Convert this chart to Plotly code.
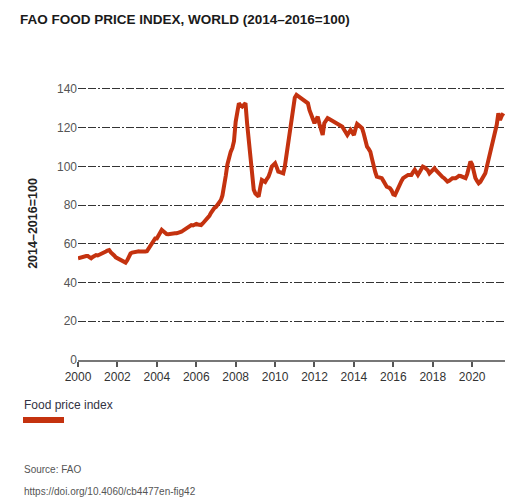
import pandas as pd
import plotly.graph_objects as go

# FAO Food Price Index, monthly (2014-2016=100)
start_month = "2000-01-01"
fpi_2000 = [52.5, 52.8, 53.2, 53.5, 53.6, 53.7, 53.7, 53.0, 52.5, 53.2, 53.8, 54.2]
fpi_2001 = [54.0, 54.3, 54.8, 55.0, 55.5, 56.0, 56.5, 56.8, 55.6, 55.1, 54.0, 53.0]
fpi_2002 = [52.5, 52.0, 51.5, 51.0, 50.5, 50.3, 51.5, 53.5, 55.0, 55.5, 55.8, 56.0]
fpi_2003 = [56.0, 56.2, 56.0, 55.8, 56.0, 56.0, 56.2, 57.5, 59.0, 60.5, 61.5, 62.8]
fpi_2004 = [62.8, 64.5, 66.0, 67.2, 66.5, 65.5, 65.1, 65.0, 65.2, 65.4, 65.3, 65.4]
fpi_2005 = [65.4, 65.6, 65.9, 66.3, 66.8, 67.3, 68.0, 68.5, 69.0, 69.7, 69.5, 70.0]
fpi_2006 = [70.3, 70.0, 69.8, 69.7, 70.5, 71.5, 72.5, 73.2, 74.5, 76.0, 77.5, 78.5]
fpi_2007 = [79.0, 80.0, 81.0, 82.5, 85.0, 89.0, 95.0, 101.0, 105.5, 107.5, 109.5, 113.0]
fpi_2008 = [123.0, 130.0, 132.6, 131.5, 130.9, 131.8, 132.6, 122.0, 113.7, 102.0, 93.0, 88.0]
fpi_2009 = [86.0, 84.8, 84.4, 89.0, 93.0, 92.5, 92.0, 93.5, 94.7, 97.0, 99.9, 100.8]
fpi_2010 = [101.6, 99.5, 97.3, 97.0, 96.6, 96.4, 100.0, 106.0, 113.0, 120.5, 126.0, 132.0]
fpi_2011 = [135.5, 136.9, 136.3, 135.8, 135.2, 134.5, 134.0, 133.2, 132.6, 129.0, 126.6, 124.0]
fpi_2012 = [122.3, 124.0, 125.7, 122.0, 118.0, 116.2, 122.3, 123.5, 124.9, 124.5, 124.0, 123.5]
fpi_2013 = [123.1, 123.0, 122.5, 121.8, 121.4, 120.5, 119.0, 117.5, 116.2, 117.5, 118.8, 117.5]
fpi_2014 = [116.2, 119.5, 121.9, 121.2, 120.5, 119.7, 117.0, 113.5, 110.2, 109.0, 107.6, 104.0]
fpi_2015 = [99.9, 97.0, 94.7, 94.3, 94.0, 93.9, 92.5, 90.5, 89.5, 89.2, 88.7, 87.5]
fpi_2016 = [85.5, 85.2, 87.0, 89.5, 91.0, 92.5, 93.9, 94.5, 95.0, 95.6, 95.6, 95.6]
fpi_2017 = [97.0, 98.2, 97.0, 95.6, 97.0, 98.5, 99.9, 99.5, 99.0, 98.0, 96.4, 97.5]
fpi_2018 = [98.5, 99.0, 98.0, 97.0, 96.4, 95.5, 94.5, 93.9, 93.0, 92.1, 92.5, 93.5]
fpi_2019 = [93.9, 93.9, 93.9, 94.5, 95.1, 95.0, 94.5, 94.0, 93.9, 96.0, 99.5, 102.5]
fpi_2020 = [101.0, 96.4, 94.0, 92.5, 91.3, 92.0, 93.5, 95.0, 96.4, 100.0, 103.5, 106.8]
fpi_2021 = [110.0, 113.5, 117.1, 121.5, 127.4, 124.0, 126.0, 127.4]

values = (fpi_2000 + fpi_2001 + fpi_2002 + fpi_2003 + fpi_2004 + fpi_2005
          + fpi_2006 + fpi_2007 + fpi_2008 + fpi_2009 + fpi_2010 + fpi_2011
          + fpi_2012 + fpi_2013 + fpi_2014 + fpi_2015 + fpi_2016 + fpi_2017
          + fpi_2018 + fpi_2019 + fpi_2020 + fpi_2021)
months = pd.date_range(start_month, periods=len(values), freq="MS")

y_ticks = [0, 20, 40, 60, 80, 100, 120, 140]

red = "#C4320F"
font = "Liberation Sans, Arial, sans-serif"

fig = go.Figure()
fig.add_trace(go.Scatter(
    x=months,
    y=values,
    mode="lines",
    name="Food price index",
    line=dict(color=red, width=4),
    showlegend=False,
))

fig.update_layout(
    width=508,
    height=499,
    paper_bgcolor="white",
    plot_bgcolor="white",
    margin=dict(l=78, r=3, t=87, b=139),
    font=dict(family=font, size=12, color="#444444"),
    title=dict(
        text="<b>FAO FOOD PRICE INDEX, WORLD (2014–2016=100)</b>",
        x=20 / 508, xanchor="left",
        y=1 - 19 / 499, yanchor="middle",
        font=dict(family=font, size=13.5, color="#1a1a1a"),
    ),
    xaxis=dict(
        type="date",
        range=["2000-01-01", "2021-09-01"],
        dtick="M24",
        tick0="2000-01-01",
        tickformat="%Y",
        showgrid=False,
        showline=True,
        linecolor="#777777",
        linewidth=1.5,
        ticks="outside",
        ticklen=5,
        tickwidth=1.5,
        tickcolor="#555555",
        tickfont=dict(size=12, color="#333333"),
        zeroline=False,
    ),
    yaxis=dict(
        range=[0, 141],
        tickvals=y_ticks,
        showgrid=True,
        gridcolor="#333333",
        gridwidth=1,
        griddash="8px,2px,8px,2px,2px,2px",
        zeroline=False,
        showline=False,
        ticks="",
        tickfont=dict(size=12, color="#555555"),
        title=dict(
            text="<b>2014–2016=100</b>",
            font=dict(size=12.5, color="#222222"),
            standoff=16,
        ),
    ),
)

# legend key drawn below the chart
fig.add_annotation(
    text="Food price index", xref="paper", yref="paper",
    x=-56 / 427, y=-45 / 273, xanchor="left", yanchor="middle",
    showarrow=False, font=dict(size=12, color="#333344"),
)
fig.add_shape(
    type="line", xref="paper", yref="paper",
    x0=-55 / 427, x1=-14 / 427, y0=-60 / 273, y1=-60 / 273,
    line=dict(color=red, width=6),
)

fig.add_annotation(
    text="Source: FAO", xref="paper", yref="paper",
    x=-56 / 427, y=-109 / 273, xanchor="left", yanchor="middle",
    showarrow=False, font=dict(size=10, color="#555555"),
)
fig.add_annotation(
    text="https://doi.org/10.4060/cb4477en-fig42", xref="paper", yref="paper",
    x=-56 / 427, y=-131 / 273, xanchor="left", yanchor="middle",
    showarrow=False, font=dict(size=10, color="#555555"),
)

# the page has a default 8px body margin; remove it so the figure fills the window
fig.write_html(
    "out.html",
    config={"displayModeBar": False},
    post_script="document.body.style.margin='0';",
)
